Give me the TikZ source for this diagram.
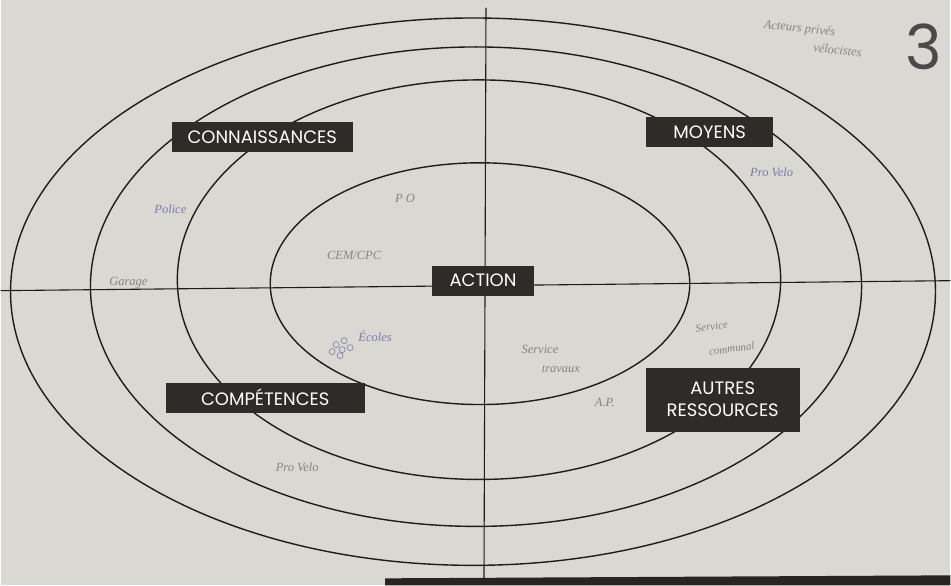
\documentclass[tikz,border=0pt]{standalone}
\usepackage{fontspec}
\setmainfont{Poppins}
\newfontfamily\plume{Liberation Serif}

\definecolor{papier}{HTML}{DAD8D3}
\definecolor{encre}{HTML}{1E1C1B}
\definecolor{boite}{HTML}{2F2B29}
\definecolor{stylo}{HTML}{7C7AA6}
\definecolor{crayon}{HTML}{85837F}

\tikzset{
  cercle/.style={draw=encre, line width=1.4pt},
  axe/.style={draw=encre, line width=1.1pt},
  rubrique/.style={fill=boite, text=white, font=\fontsize{18}{20}\selectfont,
    inner xsep=9pt, minimum height=30pt, align=center},
  note/.style={font=\plume\itshape\fontsize{12.5}{13}\selectfont, text=stylo, inner sep=1pt},
  notegris/.style={note, text=crayon}
}

\begin{document}
\begin{tikzpicture}[x=1pt,y=-1pt]
\fill[papier] (0,0) rectangle (951,586);
\fill[boite!85!black] (385,579) -- (951,576) -- (951,586) -- (385,586) -- cycle;

\draw[cercle] (480,284) ellipse [x radius=210, y radius=121];
\draw[cercle] (479,280) ellipse [x radius=302, y radius=200];
\draw[cercle] (476,287) ellipse [x radius=386, y radius=240];
\draw[cercle] (473,292) ellipse [x radius=463, y radius=274];

\coordinate (gauche) at (0,291);
\coordinate (droite) at (951,281);
\coordinate (haut) at (486,8);
\coordinate (bas) at (484,580);
\draw[axe] (gauche) -- (droite);
\draw[axe] (haut) -- (bas);

\node[rubrique, minimum width=181pt] (connaissances) at (262,137) {CONNAISSANCES};
\node[rubrique, minimum width=127pt] (moyens) at (710,132) {MOYENS};
\node[rubrique, minimum width=102pt] (action) at (483,281) {ACTION};
\node[rubrique, minimum width=199pt] (competences) at (265,398) {COMPÉTENCES};
\node[rubrique, minimum width=154pt, minimum height=64pt, inner ysep=3pt,
  font=\fontsize{18}{22}\selectfont] (autres) at (723,400) {AUTRES\\RESSOURCES};

\node[text=encre!80, font=\fontsize{62}{62}\selectfont] (numero) at (924,47) {3};

\node[notegris, rotate=-6] (acteurs) at (800,29) {Acteurs privés};
\node[notegris, rotate=-6] (velocistes) at (838,50) {vélocistes};
\node[note] (police) at (170,209) {Police};
\node[notegris] (po) at (405,199) {P O};
\node[notegris] (cem) at (354,256) {CEM/CPC};
\node[notegris] (garage) at (128,283) {Garage};
\node[note] (ecoles) at (375,337) {Écoles};
\foreach \x/\y in {336/345,344/341,342/350,332/352,350/348,340/356}
  \draw[stylo, line width=0.6pt] (\x,\y) circle (3);
\node[notegris] (service) at (540,350) {Service};
\node[notegris] (travaux) at (561,369) {travaux};
\node[notegris, rotate=8, font=\plume\itshape\fontsize{11}{12}\selectfont]
  (servcom) at (712,327) {Service};
\node[notegris, rotate=8, font=\plume\itshape\fontsize{11}{12}\selectfont]
  (communal) at (732,349) {communal};
\node[notegris] (ap) at (605,403) {A.P.};
\node[note] (provelo) at (772,172) {Pro Velo};
\node[notegris] (provelo2) at (297,468) {Pro Velo};
\end{tikzpicture}
\end{document}
